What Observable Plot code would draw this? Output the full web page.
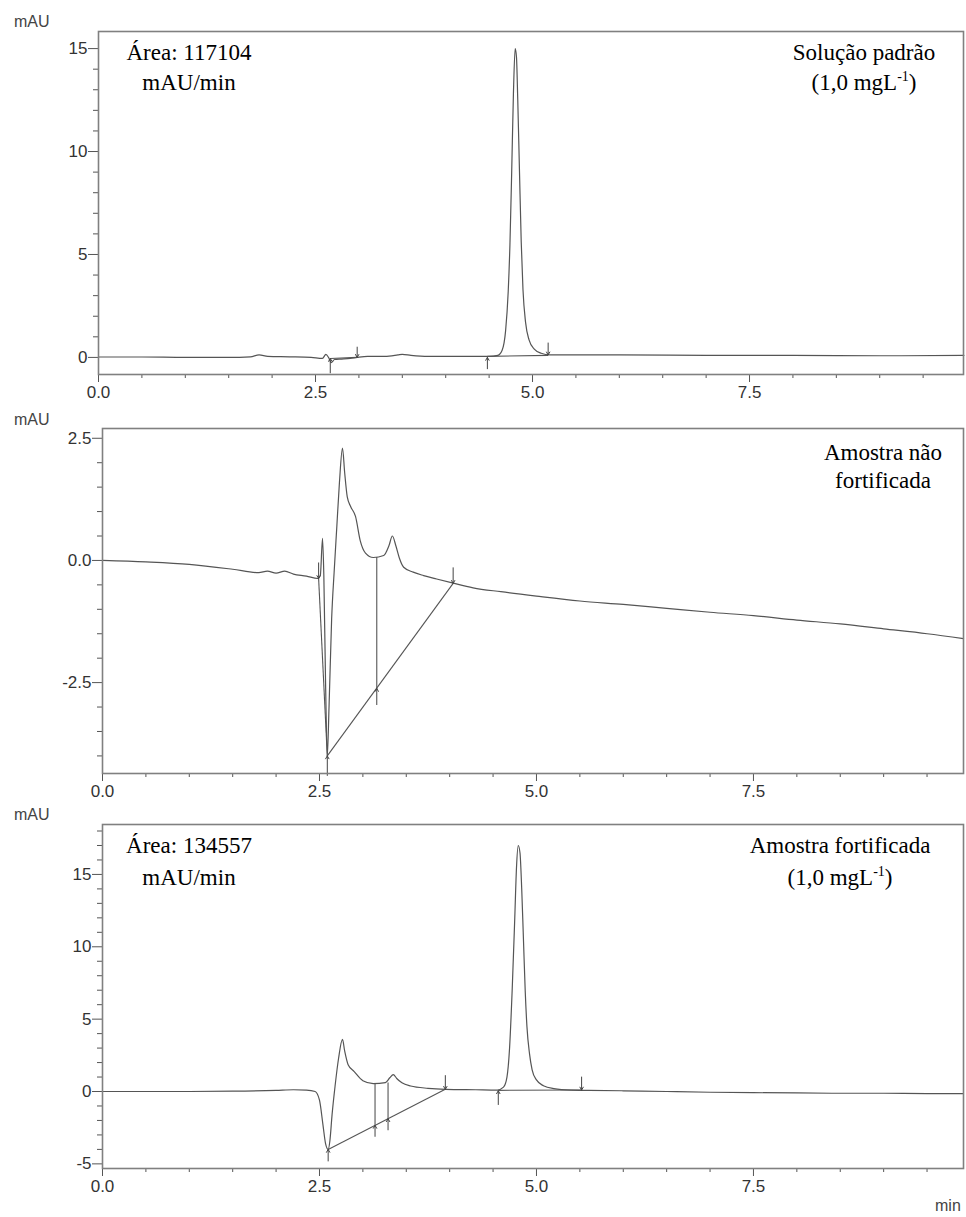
<!DOCTYPE html>
<html>
<head>
<meta charset="utf-8">
<script src="https://cdn.jsdelivr.net/npm/d3@7"></script>
<script src="https://cdn.jsdelivr.net/npm/@observablehq/plot@0.6"></script>
<style>
  html, body { margin: 0; padding: 0; background: #fff; }
  #chart { position: relative; width: 966px; height: 1217px; overflow: hidden; background: #fff; }
  .panel { position: absolute; left: 0; }
  #chart svg text { font-size: 17px !important; font-family: "Liberation Sans", Arial, sans-serif !important; }
  .unit { position: absolute; font-family: "Liberation Sans", Arial, sans-serif; font-size: 16px; color: #444; line-height: 16px; }
  .note { position: absolute; font-family: "Liberation Serif", "Times New Roman", serif; font-size: 23px; color: #000; line-height: 23px; white-space: nowrap; transform: translateX(-50%); }
  .note sup { font-size: 14px; line-height: 0; vertical-align: 9px; }
</style>
</head>
<body>
<div id="chart"></div>
<script>
// ---------- Panel 1: Solução padrão ----------
const p1Time = [0, 0.5, 1.0, 1.5, 1.75, 1.85, 1.95, 2.2, 2.45, 2.58, 2.62, 2.65, 2.68, 2.72, 2.8, 2.9, 2.98, 3.1, 3.3, 3.45, 3.5, 3.6, 3.8, 4.2, 4.5, 4.6, 4.65, 4.69, 4.72, 4.74, 4.76, 4.78, 4.80, 4.815, 4.83, 4.85, 4.87, 4.89, 4.92, 4.96, 5.02, 5.1, 5.2, 6.0, 7.0, 8.0, 9.0, 9.97];
const p1Abs  = [0.02, 0.02, 0.0, 0.0, 0.03, 0.12, 0.05, 0.03, 0.0, -0.05, 0.15, 0.0, -0.25, -0.1, -0.08, -0.05, 0.0, 0.05, 0.05, 0.12, 0.15, 0.1, 0.05, 0.05, 0.05, 0.1, 0.35, 1.3, 3.2, 5.5, 9.0, 12.8, 15.0, 14.6, 12.5, 9.0, 5.6, 3.3, 1.7, 0.85, 0.4, 0.2, 0.12, 0.12, 0.1, 0.1, 0.08, 0.1];
const p1ArrowTime = [2.67, 2.98, 4.48, 5.18];
const p1ArrowFrom = [-0.75, 0.5, -0.55, 0.7];
const p1ArrowTo   = [-0.05, 0.0, 0.0, 0.12];
const p1SegT1 = [2.67, 4.48];
const p1SegY1 = [-0.05, 0.05];
const p1SegT2 = [2.98, 5.18];
const p1SegY2 = [0.0, 0.1];

// ---------- Panel 2: Amostra não fortificada ----------
const p2Time = [0, 0.5, 1.0, 1.5, 1.8, 1.9, 2.0, 2.1, 2.2, 2.35, 2.48, 2.51, 2.535, 2.55, 2.57, 2.59, 2.61, 2.64, 2.67, 2.70, 2.73, 2.765, 2.79, 2.82, 2.86, 2.915, 2.97, 3.03, 3.12, 3.24, 3.30, 3.34, 3.38, 3.42, 3.47, 3.58, 3.70, 3.85, 4.03, 4.27, 4.59, 5.0, 5.5, 6.0, 6.5, 7.0, 7.5, 8.0, 8.5, 9.0, 9.5, 9.92];
const p2Abs  = [0.0, -0.03, -0.08, -0.18, -0.25, -0.22, -0.26, -0.22, -0.28, -0.32, -0.37, -0.3, 0.45, -0.3, -2.5, -4.0, -3.0, -1.2, -0.2, 0.7, 1.6, 2.3, 1.8, 1.3, 1.1, 0.9, 0.4, 0.15, 0.06, 0.1, 0.3, 0.5, 0.3, 0.05, -0.14, -0.24, -0.31, -0.38, -0.46, -0.56, -0.64, -0.73, -0.83, -0.9, -0.98, -1.06, -1.13, -1.22, -1.3, -1.4, -1.5, -1.6];
const p2ArrowTime = [2.49, 2.59, 3.16, 4.04];
const p2ArrowFrom = [-0.05, -4.4, -2.95, -0.15];
const p2ArrowTo   = [-0.37, -4.0, -2.62, -0.47];
const p2SegT1 = [2.59, 3.16, 2.49];
const p2SegY1 = [-4.0, 0.07, -0.37];
const p2SegT2 = [4.04, 3.16, 2.59];
const p2SegY2 = [-0.47, -2.62, -4.0];

// ---------- Panel 3: Amostra fortificada ----------
const p3Time = [0, 0.5, 1.0, 1.5, 2.0, 2.2, 2.35, 2.45, 2.5, 2.54, 2.57, 2.60, 2.62, 2.645, 2.68, 2.72, 2.765, 2.79, 2.83, 2.90, 3.0, 3.12, 3.26, 3.31, 3.35, 3.39, 3.45, 3.55, 3.75, 3.95, 4.3, 4.55, 4.62, 4.66, 4.69, 4.72, 4.75, 4.77, 4.79, 4.81, 4.83, 4.85, 4.87, 4.89, 4.92, 4.95, 5.0, 5.08, 5.2, 5.4, 5.6, 6.0, 6.5, 7.0, 7.5, 8.0, 8.5, 9.0, 9.5, 9.92];
const p3Abs  = [0.0, 0.0, 0.0, 0.02, 0.08, 0.12, 0.1, 0.0, -0.6, -2.3, -3.6, -4.0, -3.4, -1.6, 0.4, 2.3, 3.6, 2.8, 1.85, 1.38, 0.75, 0.55, 0.62, 0.95, 1.17, 0.9, 0.6, 0.38, 0.22, 0.15, 0.12, 0.1, 0.3, 1.0, 3.0, 7.0, 12.0, 15.5, 17.0, 16.5, 14.0, 10.5, 7.0, 4.5, 2.6, 1.5, 0.8, 0.4, 0.2, 0.1, 0.08, 0.05, 0.0, -0.05, -0.08, -0.1, -0.12, -0.12, -0.14, -0.15];
const p3ArrowTime = [2.60, 3.14, 3.29, 3.95, 4.56, 5.52];
const p3ArrowFrom = [-4.8, -3.1, -2.65, 1.1, -0.9, 1.0];
const p3ArrowTo   = [-4.0, -2.34, -1.88, 0.15, 0.05, 0.1];
const p3SegT1 = [2.60, 3.14, 3.29, 4.56];
const p3SegY1 = [-4.0, 0.55, 0.62, 0.08];
const p3SegT2 = [3.95, 3.14, 3.29, 5.52];
const p3SegY2 = [0.15, -2.34, -1.88, 0.1];

// ---------- Tick definitions ----------
const xMajor = [0, 2.5, 5.0, 7.5];
const xMinor = [0.5, 1, 1.5, 2, 3, 3.5, 4, 4.5, 5.5, 6, 6.5, 7, 8, 8.5, 9, 9.5];
const p1YMajor = [0, 5, 10, 15];
const p1YMinor = [1, 2, 3, 4, 6, 7, 8, 9, 11, 12, 13, 14];
const p2YMajor = [-2.5, 0, 2.5];
const p2YMinor = [-4, -3.5, -3, -2, -1.5, -1, -0.5, 0.5, 1, 1.5, 2];
const p3YMajor = [-5, 0, 5, 10, 15];
const p3YMinor = [-4, -3, -2, -1, 1, 2, 3, 4, 6, 7, 8, 9, 11, 12, 13, 14, 16, 17, 18];

const chart = document.getElementById("chart");
const traceColor = "#555";

function zip(t, v) { return t.map((d, i) => ({t: d, v: v[i]})); }
function arrows(t, a, b) { return t.map((d, i) => ({t: d, from: a[i], to: b[i]})); }
function segs(t1, y1, t2, y2) { return t1.map((d, i) => ({t1: d, y1: y1[i], t2: t2[i], y2: y2[i]})); }

function panel(o) {
  const svg = Plot.plot({
    width: 966,
    height: o.height,
    marginTop: o.mt,
    marginBottom: o.mb,
    marginLeft: o.ml,
    marginRight: o.mr,
    style: {fontFamily: "'Liberation Sans', Arial, sans-serif", fontSize: "17px", color: "#444", background: "white"},
    x: {domain: o.xDomain, label: null},
    y: {domain: o.yDomain, label: null},
    marks: [
      Plot.axisX(xMinor, {tickSize: 4, tickFormat: () => "", stroke: "#555"}),
      Plot.axisX(xMajor, {tickSize: 8, tickPadding: 3, tickFormat: d => d.toFixed(1), stroke: "#555", fill: "#333"}),
      Plot.axisY(o.yMinor, {tickSize: 5, tickFormat: () => "", stroke: "#555"}),
      Plot.axisY(o.yMajor, {tickSize: 10, tickPadding: 1, tickFormat: o.yFmt, stroke: "#555", fill: "#333"}),
      Plot.link(o.segs, {x1: "t1", y1: "y1", x2: "t2", y2: "y2", stroke: "#555", strokeWidth: 1.1}),
      Plot.line(o.data, {x: "t", y: "v", stroke: traceColor, strokeWidth: 1.2, curve: "monotone-x"}),
      Plot.arrow(o.arrows, {x1: "t", y1: "from", x2: "t", y2: "to", stroke: "#444", strokeWidth: 1, headLength: 5}),
      Plot.frame({stroke: "#808080", strokeWidth: 1.6})
    ]
  });
  svg.classList.add("panel");
  svg.style.top = o.top + "px";
  chart.appendChild(svg);
}

panel({
  top: 0, height: 405, mt: 31, mb: 31, ml: 98, mr: 3,
  xDomain: [0, 9.965], yDomain: [-0.83, 15.83],
  yMajor: p1YMajor, yMinor: p1YMinor, yFmt: d => String(d),
  data: zip(p1Time, p1Abs),
  arrows: arrows(p1ArrowTime, p1ArrowFrom, p1ArrowTo),
  segs: segs(p1SegT1, p1SegY1, p1SegT2, p1SegY2)
});
panel({
  top: 405, height: 400, mt: 23, mb: 32, ml: 102, mr: 3,
  xDomain: [0, 9.92], yDomain: [-4.36, 2.70],
  yMajor: p2YMajor, yMinor: p2YMinor, yFmt: d => d.toFixed(1),
  data: zip(p2Time, p2Abs),
  arrows: arrows(p2ArrowTime, p2ArrowFrom, p2ArrowTo),
  segs: segs(p2SegT1, p2SegY1, p2SegT2, p2SegY2)
});
panel({
  top: 805, height: 412, mt: 19, mb: 49, ml: 102, mr: 3,
  xDomain: [0, 9.92], yDomain: [-5.32, 18.45],
  yMajor: p3YMajor, yMinor: p3YMinor, yFmt: d => String(d),
  data: zip(p3Time, p3Abs),
  arrows: arrows(p3ArrowTime, p3ArrowFrom, p3ArrowTo),
  segs: segs(p3SegT1, p3SegY1, p3SegT2, p3SegY2)
});

// ---------- Text labels ----------
function addText(cls, html, left, top) {
  const el = document.createElement("div");
  el.className = cls;
  el.innerHTML = html;
  el.style.left = left + "px";
  el.style.top = top + "px";
  chart.appendChild(el);
  return el;
}
addText("unit", "mAU", 14, 14);
addText("unit", "mAU", 14, 412);
addText("unit", "mAU", 14, 807);
addText("unit", "min", 935, 1198);

addText("note", "Área: 117104", 189, 41);
addText("note", "mAU/min", 189, 71);
addText("note", "Solução padrão", 864, 41);
addText("note", "(1,0 mgL<sup>-1</sup>)", 864, 71);

addText("note", "Amostra não", 883, 441);
addText("note", "fortificada", 883, 469);

addText("note", "Área: 134557", 189, 834);
addText("note", "mAU/min", 189, 866);
addText("note", "Amostra fortificada", 840, 834);
addText("note", "(1,0 mgL<sup>-1</sup>)", 840, 866);
</script>
</body>
</html>
